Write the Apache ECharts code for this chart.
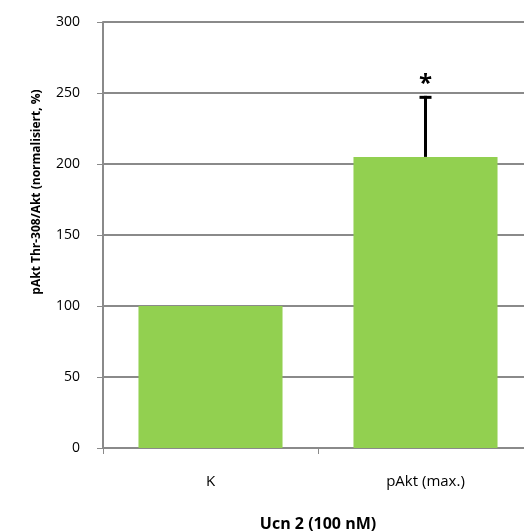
<!DOCTYPE html>
<html>
<head>
<meta charset="utf-8">
<script src="https://cdn.jsdelivr.net/npm/echarts@6/dist/echarts.min.js"></script>
<style>
  html, body { margin: 0; padding: 0; background: #fff; }
  #chart { width: 524px; height: 532px; }
</style>
</head>
<body>
<div id="chart"></div>
<script>
// Groups and measured values
var categories = ['K', 'pAkt (max.)'];
var values = [100, 205];
// Upper end of the error bar (mean + SEM); null where none is drawn
var errorUpper = [null, 248];
// Significance markers per group
var significance = ['', '*'];
var yTicks = { min: 0, max: 300, interval: 50 };

var FONT = '"Open Sans", "Noto Sans", sans-serif';
var GRID_GRAY = '#8a8a8a';

var chart = echarts.init(document.getElementById('chart'), null, { renderer: 'canvas' });

var errorData = [];
for (var i = 0; i < categories.length; i++) {
  if (errorUpper[i] != null) {
    errorData.push([i, values[i], errorUpper[i], significance[i]]);
  }
}

chart.setOption({
  animation: false,
  backgroundColor: '#fff',
  // the category band runs a little past the right edge of the canvas
  grid: {
    left: 103, width: 430, top: 22, bottom: 84,
    containLabel: false,
    outerBoundsMode: 'none'
  },
  xAxis: {
    type: 'category',
    data: categories,
    name: 'Ucn 2 (100 nM)',
    nameLocation: 'middle',
    nameGap: 68,
    nameTextStyle: { fontFamily: FONT, fontSize: 16, fontWeight: 'bold', color: '#000' },
    axisLine: { lineStyle: { color: GRID_GRAY, width: 2 } },
    axisTick: { show: true, length: 6, lineStyle: { color: GRID_GRAY, width: 1 } },
    axisLabel: { fontFamily: FONT, fontSize: 15, color: '#000', margin: 26 },
    splitLine: { show: false }
  },
  yAxis: {
    type: 'value',
    min: yTicks.min,
    max: yTicks.max,
    interval: yTicks.interval,
    axisLine: { show: true, lineStyle: { color: GRID_GRAY, width: 2 } },
    axisTick: { show: true, length: 6, lineStyle: { color: GRID_GRAY, width: 1 } },
    axisLabel: { fontFamily: FONT, fontSize: 14, color: '#000', margin: 23 },
    splitLine: { show: true, lineStyle: { color: GRID_GRAY, width: 2 } }
  },
  graphic: [{
    type: 'text',
    x: 37,
    y: 192,
    rotation: Math.PI / 2,
    style: {
      text: 'pAkt Thr-308/Akt (normalisiert, %)',
      fontFamily: FONT,
      fontSize: 12,
      fontWeight: 'bold',
      fill: '#000',
      align: 'center',
      verticalAlign: 'middle'
    }
  }],
  series: [{
    type: 'bar',
    data: values,
    barWidth: '67%',
    itemStyle: { color: '#92d050' },
    z: 2
  }, {
    type: 'custom',
    data: errorData,
    z: 5,
    renderItem: function (params, api) {
      var base = api.coord([api.value(0), api.value(1)]);
      var top = api.coord([api.value(0), api.value(2)]);
      var sig = errorData[params.dataIndex][3];
      var cap = 6;
      return {
        type: 'group',
        children: [{
          type: 'line',
          shape: { x1: base[0], y1: base[1], x2: top[0], y2: top[1] },
          style: { stroke: '#000', lineWidth: 3 }
        }, {
          type: 'line',
          shape: { x1: top[0] - cap, y1: top[1] + 1.5, x2: top[0] + cap, y2: top[1] + 1.5 },
          style: { stroke: '#000', lineWidth: 3 }
        }, {
          type: 'text',
          x: top[0],
          y: top[1] - 12,
          style: {
            text: sig,
            fontFamily: FONT,
            fontSize: 24,
            fontWeight: 'bold',
            fill: '#000',
            align: 'center',
            verticalAlign: 'middle'
          }
        }]
      };
    }
  }]
});
</script>
</body>
</html>
